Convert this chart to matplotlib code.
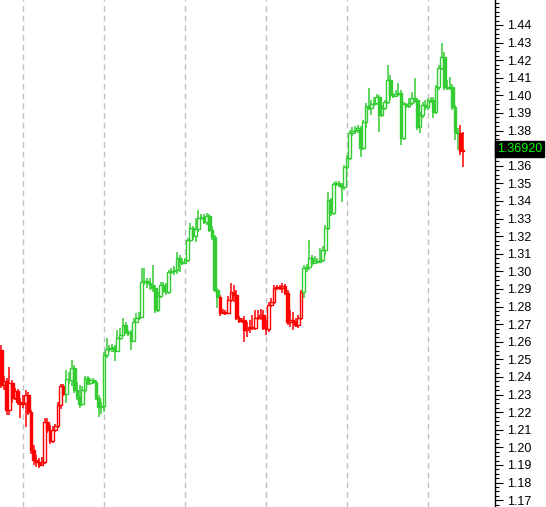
import matplotlib
matplotlib.use('Agg')
import matplotlib.pyplot as plt
import matplotlib.transforms as mtransforms
from matplotlib.ticker import MultipleLocator, FuncFormatter

# daily candles, oldest first
opens = [1.2553, 1.2355, 1.2377, 1.2212, 1.2366, 1.2281, 1.2320, 1.2258, 1.2247, 1.2252,
         1.2298, 1.2201, 1.1985, 1.1928, 1.1917, 1.1900, 1.1917, 1.2144, 1.2099, 1.2036,
         1.2099, 1.2121, 1.2241, 1.2349, 1.2303, 1.2389, 1.2383, 1.2451, 1.2326, 1.2286,
         1.2247, 1.2326, 1.2394, 1.2366, 1.2383, 1.2372, 1.2281, 1.2230, 1.2235, 1.2525,
         1.2559, 1.2565, 1.2570, 1.2548, 1.2621, 1.2639, 1.2695, 1.2656, 1.2650, 1.2605,
         1.2712, 1.2735, 1.2741, 1.2940, 1.2945, 1.2934, 1.2923, 1.2906, 1.2781, 1.2860,
         1.2923, 1.2889, 1.2883, 1.2996, 1.3002, 1.3008, 1.3076, 1.3053, 1.3048, 1.3065,
         1.3178, 1.3247, 1.3201, 1.3241, 1.3303, 1.3309, 1.3281, 1.3315, 1.3235, 1.3195,
         1.2894, 1.2854, 1.2764, 1.2769, 1.2764, 1.2837, 1.2883, 1.2866, 1.2735, 1.2718,
         1.2724, 1.2667, 1.2678, 1.2684, 1.2678, 1.2735, 1.2741, 1.2752, 1.2678, 1.2673,
         1.2809, 1.2826, 1.2906, 1.2911, 1.2906, 1.2917, 1.2877, 1.2712, 1.2724, 1.2712,
         1.2695, 1.2735, 1.2883, 1.3019, 1.3025, 1.3076, 1.3048, 1.3059, 1.3053, 1.3065,
         1.3122, 1.3247, 1.3406, 1.3332, 1.3497, 1.3502, 1.3491, 1.3480, 1.3593, 1.3644,
         1.3786, 1.3798, 1.3803, 1.3815, 1.3701, 1.3849, 1.3940, 1.3928, 1.3951, 1.3957,
         1.3991, 1.3889, 1.3928, 1.3962, 1.4087, 1.4002, 1.3996, 1.4008, 1.4014, 1.3758,
         1.3951, 1.3940, 1.3957, 1.3985, 1.3974, 1.3820, 1.3889, 1.3945, 1.3934, 1.3968,
         1.3974, 1.3906, 1.4048, 1.4156, 1.4218, 1.4048, 1.4042, 1.4048, 1.3934, 1.3792,
         1.3786, 1.3684]
highs = [1.2582, 1.2406, 1.2394, 1.2457, 1.2383, 1.2338, 1.2332, 1.2281, 1.2298, 1.2326,
         1.2315, 1.2212, 1.2014, 1.1957, 1.1940, 1.1945, 1.2167, 1.2167, 1.2127, 1.2121,
         1.2133, 1.2258, 1.2360, 1.2360, 1.2440, 1.2428, 1.2497, 1.2468, 1.2372, 1.2355,
         1.2349, 1.2406, 1.2406, 1.2394, 1.2394, 1.2383, 1.2298, 1.2258, 1.2542, 1.2621,
         1.2582, 1.2587, 1.2582, 1.2667, 1.2678, 1.2735, 1.2712, 1.2667, 1.2667, 1.2735,
         1.2764, 1.2769, 1.3019, 1.3019, 1.2962, 1.2962, 1.3036, 1.2923, 1.2883, 1.2940,
         1.2940, 1.2934, 1.3008, 1.3019, 1.3031, 1.3110, 1.3093, 1.3076, 1.3076, 1.3190,
         1.3275, 1.3258, 1.3303, 1.3349, 1.3326, 1.3326, 1.3332, 1.3326, 1.3258, 1.3207,
         1.2906, 1.2866, 1.2786, 1.2781, 1.2860, 1.2934, 1.2923, 1.2894, 1.2746, 1.2735,
         1.2746, 1.2712, 1.2724, 1.2752, 1.2781, 1.2781, 1.2786, 1.2781, 1.2724, 1.2826,
         1.2849, 1.2923, 1.2923, 1.2923, 1.2934, 1.2928, 1.2894, 1.2781, 1.2769, 1.2735,
         1.2752, 1.2894, 1.3036, 1.3042, 1.3178, 1.3093, 1.3088, 1.3076, 1.3133, 1.3144,
         1.3264, 1.3451, 1.3417, 1.3508, 1.3514, 1.3514, 1.3502, 1.3605, 1.3661, 1.3803,
         1.3820, 1.3826, 1.3832, 1.3826, 1.3860, 1.3957, 1.4042, 1.3974, 1.3991, 1.4008,
         1.4002, 1.3945, 1.3974, 1.4173, 1.4116, 1.4014, 1.4031, 1.4070, 1.4031, 1.3962,
         1.3957, 1.3985, 1.4019, 1.4099, 1.3985, 1.3906, 1.3962, 1.3974, 1.3985, 1.3991,
         1.3991, 1.4059, 1.4173, 1.4298, 1.4247, 1.4087, 1.4105, 1.4065, 1.3945, 1.3815,
         1.3832, 1.3792]
lows = [1.2338, 1.2326, 1.2184, 1.2184, 1.2252, 1.2269, 1.2241, 1.2167, 1.2224, 1.2116,
        1.2184, 1.1962, 1.1900, 1.1889, 1.1883, 1.1894, 1.1906, 1.2082, 1.2019, 1.2025,
        1.2087, 1.2110, 1.2218, 1.2292, 1.2252, 1.2360, 1.2349, 1.2309, 1.2269, 1.2224,
        1.2235, 1.2309, 1.2355, 1.2355, 1.2360, 1.2269, 1.2173, 1.2190, 1.2201, 1.2508,
        1.2542, 1.2542, 1.2491, 1.2542, 1.2610, 1.2633, 1.2644, 1.2633, 1.2553, 1.2599,
        1.2712, 1.2724, 1.2735, 1.2923, 1.2906, 1.2894, 1.2883, 1.2764, 1.2769, 1.2849,
        1.2877, 1.2866, 1.2872, 1.2985, 1.2980, 1.2985, 1.2996, 1.3036, 1.3042, 1.3053,
        1.3167, 1.3178, 1.3167, 1.3224, 1.3292, 1.3269, 1.3264, 1.3224, 1.3178, 1.2883,
        1.2792, 1.2746, 1.2758, 1.2752, 1.2758, 1.2826, 1.2826, 1.2724, 1.2707, 1.2707,
        1.2599, 1.2627, 1.2650, 1.2667, 1.2667, 1.2724, 1.2724, 1.2667, 1.2639, 1.2656,
        1.2798, 1.2815, 1.2894, 1.2894, 1.2877, 1.2866, 1.2695, 1.2684, 1.2667, 1.2684,
        1.2678, 1.2724, 1.2849, 1.2996, 1.3008, 1.3031, 1.3042, 1.3048, 1.3048, 1.3053,
        1.3093, 1.3235, 1.3315, 1.3320, 1.3485, 1.3480, 1.3394, 1.3462, 1.3576, 1.3633,
        1.3769, 1.3781, 1.3786, 1.3650, 1.3690, 1.3815, 1.3917, 1.3889, 1.3940, 1.3945,
        1.3792, 1.3877, 1.3917, 1.3951, 1.3974, 1.3985, 1.3991, 1.3996, 1.3718, 1.3747,
        1.3928, 1.3928, 1.3945, 1.3957, 1.3803, 1.3786, 1.3872, 1.3917, 1.3917, 1.3957,
        1.3872, 1.3894, 1.4031, 1.4144, 1.4031, 1.4031, 1.4031, 1.3917, 1.3747, 1.3690,
        1.3661, 1.3593]
closes = [1.2355, 1.2377, 1.2212, 1.2366, 1.2281, 1.2320, 1.2258, 1.2247, 1.2252, 1.2298,
          1.2201, 1.1985, 1.1928, 1.1917, 1.1900, 1.1917, 1.2144, 1.2099, 1.2036, 1.2099,
          1.2121, 1.2241, 1.2349, 1.2303, 1.2389, 1.2383, 1.2451, 1.2326, 1.2286, 1.2247,
          1.2326, 1.2394, 1.2366, 1.2383, 1.2372, 1.2281, 1.2230, 1.2235, 1.2525, 1.2559,
          1.2565, 1.2570, 1.2548, 1.2621, 1.2639, 1.2695, 1.2656, 1.2650, 1.2605, 1.2712,
          1.2735, 1.2741, 1.2940, 1.2945, 1.2934, 1.2923, 1.2906, 1.2781, 1.2860, 1.2923,
          1.2889, 1.2883, 1.2996, 1.3002, 1.3008, 1.3076, 1.3053, 1.3048, 1.3065, 1.3178,
          1.3247, 1.3201, 1.3241, 1.3303, 1.3309, 1.3281, 1.3315, 1.3235, 1.3195, 1.2894,
          1.2854, 1.2764, 1.2769, 1.2764, 1.2837, 1.2883, 1.2866, 1.2735, 1.2718, 1.2724,
          1.2667, 1.2678, 1.2684, 1.2678, 1.2735, 1.2741, 1.2752, 1.2678, 1.2673, 1.2809,
          1.2826, 1.2906, 1.2911, 1.2906, 1.2917, 1.2877, 1.2712, 1.2724, 1.2712, 1.2695,
          1.2735, 1.2883, 1.3019, 1.3025, 1.3076, 1.3048, 1.3059, 1.3053, 1.3065, 1.3122,
          1.3247, 1.3406, 1.3332, 1.3497, 1.3502, 1.3491, 1.3480, 1.3593, 1.3644, 1.3786,
          1.3798, 1.3803, 1.3815, 1.3701, 1.3849, 1.3940, 1.3928, 1.3951, 1.3957, 1.3991,
          1.3889, 1.3928, 1.3962, 1.4087, 1.4002, 1.3996, 1.4008, 1.4014, 1.3758, 1.3951,
          1.3940, 1.3957, 1.3985, 1.3974, 1.3820, 1.3889, 1.3945, 1.3934, 1.3968, 1.3974,
          1.3906, 1.4048, 1.4156, 1.4218, 1.4048, 1.4042, 1.4048, 1.3934, 1.3792, 1.3786,
          1.3684, 1.3692]

# trend colouring: (first candle of the run, colour)
trend_runs = [(0, '#ff0000'), (24, '#33cc33'), (81, '#ff0000'), (112, '#33cc33'), (170, '#ff0000')]
# candles where a new period starts (vertical dashed lines)
period_starts = [8, 38, 68, 98, 128, 158]
# price scale labels shown on the right
scale_ticks = [1.17, 1.18, 1.19, 1.20, 1.21, 1.22, 1.23, 1.24, 1.25, 1.26, 1.27, 1.28, 1.29, 1.30,
               1.31, 1.32, 1.33, 1.34, 1.35, 1.36, 1.37, 1.38, 1.39, 1.40, 1.41, 1.42, 1.43, 1.44]
last_label = '1.36920'

n = len(closes)
cols = []
for i in range(n):
    c = trend_runs[0][1]
    for start, col in trend_runs:
        if i >= start:
            c = col
    cols.append(c)

fig = plt.figure(figsize=(5.46, 5.07), dpi=100)
ax = fig.add_axes([0, 0, 495 / 546, 1])

for g in period_starts:
    ax.axvline(g, color='#c0c0c0', lw=1.0, ls=(0, (4, 3)), zorder=0)

x = list(range(n))
ax.vlines(x, lows, highs, colors=cols, lw=1.1, zorder=2)
for i in range(n):
    o, c = opens[i], closes[i]
    up = c >= o
    ax.bar(i, abs(c - o), bottom=min(o, c), width=1.0,
           facecolor='white' if up else cols[i], edgecolor=cols[i],
           linewidth=1.0, zorder=3)

ax.set_xlim(-0.5, 182.8)
ax.set_ylim(1.1661, 1.4542)

for s in ['left', 'top', 'bottom']:
    ax.spines[s].set_visible(False)
ax.spines['right'].set_color('black')
ax.spines['right'].set_linewidth(1.0)
ax.set_xticks([])
ax.yaxis.tick_right()
ax.set_yticks(scale_ticks)
ax.yaxis.set_minor_locator(MultipleLocator(0.0025))
# the scale slot nearest the last price is covered by the price tag
hidden = round(closes[-1], 2)
ax.yaxis.set_major_formatter(FuncFormatter(lambda v, p: '' if abs(v - hidden) < 1e-6 else '%.2f' % v))
ax.tick_params(axis='y', which='major', direction='out', length=6, width=0.8,
               pad=2.5, labelsize=9, colors='black')
ax.tick_params(axis='y', which='minor', direction='out', length=3, width=0.8)
for lab in ax.get_yticklabels():
    lab.set_fontfamily('Liberation Sans')

trans = mtransforms.blended_transform_factory(ax.transAxes, ax.transData)
ax.text(1.004, closes[-1] + 0.0003, last_label, transform=trans, ha='left', va='center',
        color='#00ff00', fontsize=9, family='Liberation Sans', clip_on=False, zorder=10,
        bbox=dict(boxstyle='square,pad=0.18', facecolor='black', edgecolor='black'))

fig.savefig('out.png', dpi=100)
